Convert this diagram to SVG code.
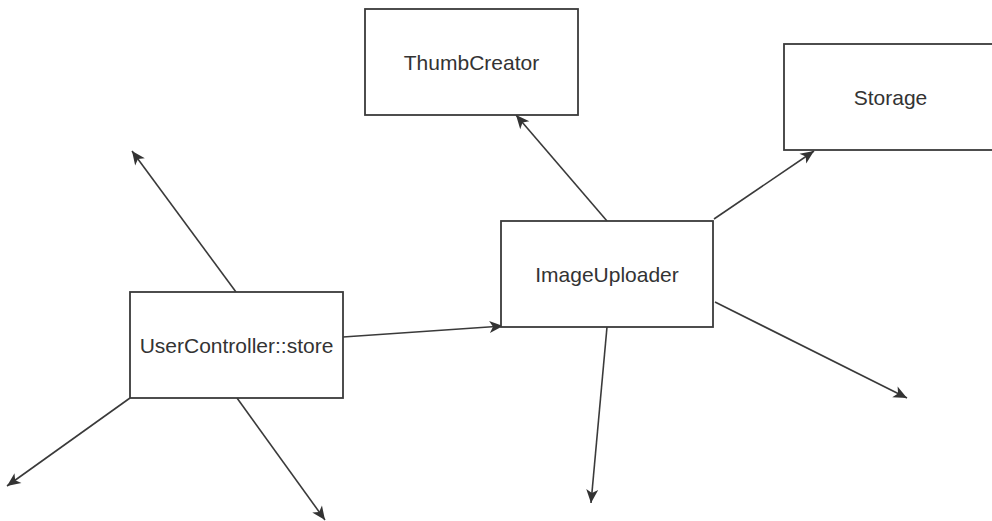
<svg xmlns="http://www.w3.org/2000/svg" width="992" height="521" viewBox="0 0 992 521">
<style>
.box{fill:#fff;stroke:#3a3a3a;stroke-width:1.8}
.lbl{font-family:"Liberation Sans",Arial,sans-serif;font-size:21px;fill:#333;text-anchor:middle}
.edge{fill:none;stroke:#3a3a3a;stroke-width:1.6;marker-end:url(#arr)}
</style>
<defs>
<marker id="arr" markerUnits="userSpaceOnUse" viewBox="-15 -8 16 16" refX="0" refY="0" markerWidth="16" markerHeight="16" orient="auto">
<path d="M0,0 L-13.5,-6 L-10,0 L-13.5,6 Z" fill="#333"/>
</marker>
</defs>
<rect width="992" height="521" fill="#fff"/>
<g id="connectors">
<line class="edge" x1="236" y1="292" x2="132" y2="151"/>
<line class="edge" x1="130" y1="398" x2="7" y2="486"/>
<line class="edge" x1="237" y1="398" x2="325" y2="520"/>
<line class="edge" x1="343" y1="337" x2="503" y2="326"/>
<line class="edge" x1="607" y1="221" x2="516" y2="115"/>
<line class="edge" x1="714" y1="219" x2="814" y2="151"/>
<line class="edge" x1="607" y1="327" x2="591" y2="503"/>
<line class="edge" x1="715" y1="302" x2="907" y2="398"/>
</g>
<g id="ThumbCreator">
<rect class="box" x="365" y="9" width="213" height="106"/>
<text class="lbl" x="471.5" y="69.5">ThumbCreator</text>
</g>
<g id="Storage">
<rect class="box" x="784" y="44" width="213" height="106"/>
<text class="lbl" x="890.5" y="104.5">Storage</text>
</g>
<g id="UserController">
<rect class="box" x="130" y="292" width="213" height="106"/>
<text class="lbl" x="236.5" y="352.5">UserController::store</text>
</g>
<g id="ImageUploader">
<rect class="box" x="501" y="221" width="212" height="106"/>
<text class="lbl" x="607" y="281.5">ImageUploader</text>
</g>
</svg>
